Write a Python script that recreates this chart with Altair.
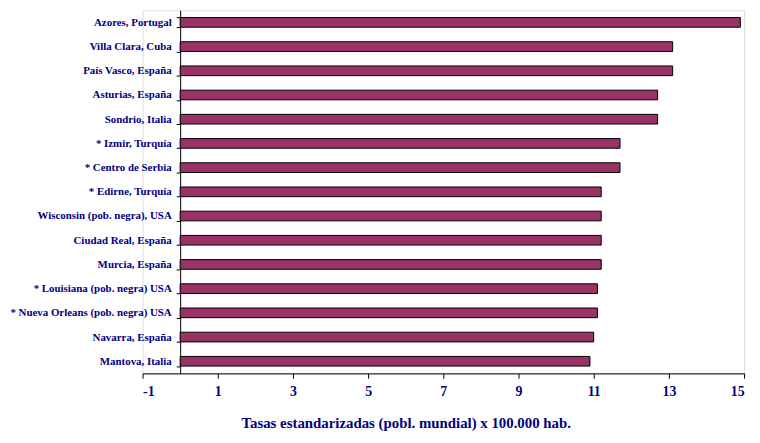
import altair as alt
import pandas as pd

places = [
    "Azores, Portugal",
    "Villa Clara, Cuba",
    "País Vasco, España",
    "Asturias, España",
    "Sondrio, Italia",
    "* Izmir, Turquía",
    "* Centro de Serbia",
    "*  Edirne, Turquía",
    "Wisconsin (pob. negra), USA",
    "Ciudad Real, España",
    "Murcia, España",
    "* Louisiana (pob. negra) USA",
    "* Nueva Orleans (pob. negra) USA",
    "Navarra, España",
    "Mantova, Italia",
]
rates = [14.9, 13.1, 13.1, 12.7, 12.7, 11.7, 11.7, 11.2, 11.2, 11.2, 11.2, 11.1, 11.1, 11.0, 10.9]
x_ticks = [-1, 1, 3, 5, 7, 9, 11, 13, 15]

df = pd.DataFrame({"place": places, "rate": rates})

navy = "#000080"
font = "Liberation Serif"

chart = alt.Chart(df).mark_bar(
    color="#993366", stroke="black", strokeWidth=1
).encode(
    x=alt.X(
        "rate:Q",
        scale=alt.Scale(domain=[-1, 15], nice=False, zero=False),
        axis=alt.Axis(
            values=x_ticks,
            grid=False,
            domainColor="black",
            tickColor="black",
            tickSize=5,
            labelExpr="'' + datum.value",
            labelFont=font,
            labelFontWeight="bold",
            labelFontSize=14,
            labelColor=navy,
            labelPadding=6,
            title="Tasas estandarizadas (pobl. mundial) x 100.000 hab.",
            titleFont=font,
            titleFontWeight="bold",
            titleFontSize=15,
            titleColor=navy,
            titleX=266,
            titleY=55,
            titleBaseline="alphabetic",
            titleAlign="center",
        ),
    ),
    y=alt.Y(
        "place:N",
        sort=places,
        scale=alt.Scale(paddingInner=0.6, paddingOuter=0.3),
        axis=alt.Axis(
            title=None,
            offset=-38,
            grid=False,
            tickBand="extent",
            domainColor="black",
            tickColor="black",
            tickSize=4,
            labelFont=font,
            labelFontWeight="bold",
            labelFontSize=11,
            labelColor=navy,
            labelPadding=5,
        ),
    ),
).properties(
    width=608, height=367,
    autosize=alt.AutoSizeParams(type="none"),
    padding={"left": 136, "top": 0, "right": 8, "bottom": 60},
).configure_view(stroke=None).configure(background="white")

chart.save("out.html", embed_options={"renderer": "svg", "actions": False})
